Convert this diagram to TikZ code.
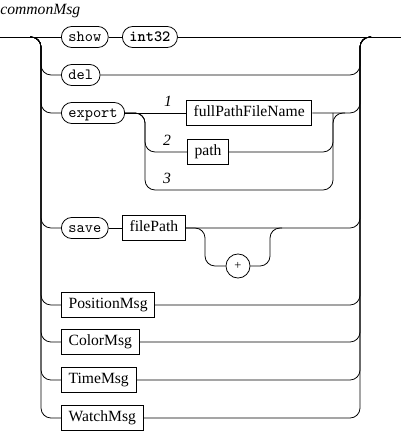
\documentclass[tikz,border=0pt]{standalone}
\usepackage{fontspec}
\setmainfont{Liberation Serif}

\begin{document}
\begin{tikzpicture}[x=0.64pt, y=-0.64pt, line width=0.5pt,
        term/.style={draw, rounded corners=6.7pt, minimum height=13.5pt, inner xsep=4.5pt, inner ysep=0pt,
            text height=7pt, text depth=1.5pt, font=\ttfamily, anchor=west},
        nonterm/.style={draw, rectangle, minimum height=16.3pt, inner xsep=4.6pt, inner ysep=0pt,
            text height=7pt, text depth=2pt, anchor=west},
        branch/.style={font=\itshape, inner sep=0pt},
        rail/.style={rounded corners=6.4pt}]
        \useasboundingbox (0, 0) rectangle (401, 433);

        \node[anchor=base west, inner sep=0pt, font=\itshape] at (0, 15)  (title)  {commonMsg};

        % Nodes
        \node[term] at (61, 37)  (show)    {show};
        \node[term, font=\ttfamily\bfseries] at (122, 37)  (int)    {int32};
        \node[term] at (61, 75)  (del)    {del};
        \node[term] at (61, 113)  (export)    {export};
        \node[nonterm] at (186, 113)  (fpfn)    {fullPathFileName};
        \node[nonterm] at (187, 152)  (path)    {path};
        \node[term] at (61, 228)  (save)    {save};
        \node[nonterm] at (122, 228)  (fp)    {filePath};
        \node[circle, draw, minimum size=15.4pt, inner sep=0pt, font=\footnotesize] at (238, 266)  (plus)    {+};
        \node[nonterm] at (61, 305)  (pos)    {PositionMsg};
        \node[nonterm] at (61, 342)  (color)    {ColorMsg};
        \node[nonterm] at (61, 380)  (time)    {TimeMsg};
        \node[nonterm] at (61, 418)  (watch)    {WatchMsg};

        \node[branch] at (168, 101)  (one)    {1};
        \node[branch] at (167, 140)  (two)    {2};
        \node[branch] at (167, 178)  (three)    {3};

        \coordinate (in) at (0, 37);
        \coordinate (sstart) at (30, 37);
        \coordinate (split) at (41, 37);
        \coordinate (join) at (360, 37);
        \coordinate (jend) at (371, 37);
        \coordinate (out) at (401, 37);
        \coordinate (xsplit) at (145, 113);
        \coordinate (xjoin) at (333, 113);
        \coordinate (skip) at (240, 190);
        \coordinate (lsplit) at (205, 228);
        \coordinate (ljoin) at (270, 228);

        \draw  (in) -- (show.west);
        \draw  (show.east) -- (int.west);
        \draw  (int.east) -- (out);

        \draw[rail]  (sstart) -- (split) |- (del.west);
        \draw[rail]  (del.east) -| (join) -- (jend);

        \draw[rail]  (sstart) -- (split) |- (export.west);
        \draw  (export.east) -- (fpfn.west);
        \draw[rail]  (fpfn.east) -| (join) -- (jend);
        \draw[rail]  (export.east) -- (xsplit) |- (path.west);
        \draw[rail]  (path.east) -| (xjoin) -- ++(12, 0);
        \draw[rail]  (export.east) -- (xsplit) |- (skip) -| (xjoin);

        \draw[rail]  (sstart) -- (split) |- (save.west);
        \draw  (save.east) -- (fp.west);
        \draw[rail]  (fp.east) -| (join) -- (jend);
        \draw[rail]  (fp.east) -- (lsplit) |- (plus.west);
        \draw[rail]  (plus.east) -| (ljoin) -- ++(12, 0);

        \foreach \n in {pos, color, time, watch} {
            \draw[rail]  (sstart) -- (split) |- (\n.west);
            \draw[rail]  (\n.east) -| (join) -- (jend);
        }
    \end{tikzpicture}
\end{document}
